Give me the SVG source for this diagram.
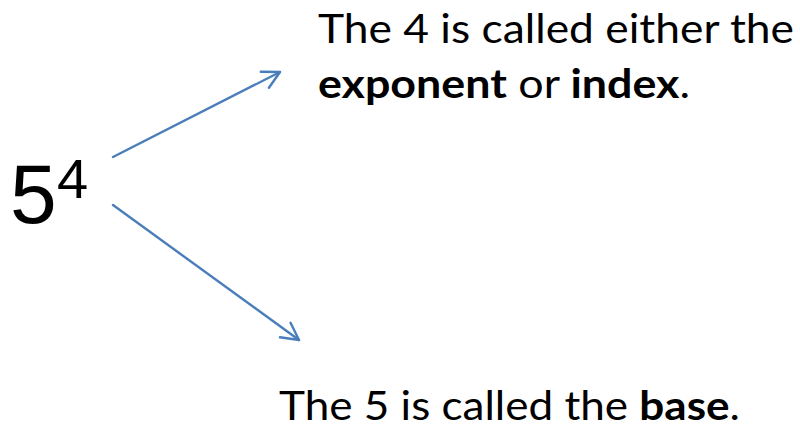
<svg xmlns="http://www.w3.org/2000/svg" width="800" height="429" viewBox="0 0 800 429">
  <defs>
    <marker id="open-arrow" viewBox="0 0 22 22" refX="20" refY="11" markerWidth="22" markerHeight="22" markerUnits="userSpaceOnUse" orient="auto">
      <path d="M3,2 L20,11 L3,20" fill="none" stroke="#4a7ebb" stroke-width="2.4" stroke-linecap="round" stroke-linejoin="round"/>
    </marker>
  </defs>
  <style>
    .label { font-family: Lato, "Open Sans", sans-serif; font-size: 40px; fill: #000; }
    .b { font-weight: bold; }
    .math { font-family: "Liberation Sans", Arial, sans-serif; fill: #000; }
    .conn { stroke: #4a7ebb; stroke-width: 2.4; fill: none; stroke-linecap: round; }
  </style>
  <rect width="800" height="429" fill="#fff"/>

  <g id="power">
    <text class="math" x="10" y="223" font-size="84">5</text>
    <text class="math" x="57" y="198" font-size="56">4</text>
  </g>

  <g id="connectors">
    <line class="conn" x1="113" y1="157" x2="280" y2="72" marker-end="url(#open-arrow)"/>
    <line class="conn" x1="113" y1="205" x2="299" y2="340" marker-end="url(#open-arrow)"/>
  </g>

  <g id="exponent-note">
    <text class="label" x="318" y="43" textLength="476" lengthAdjust="spacingAndGlyphs">The 4 is called either the</text>
    <text class="label" x="318" y="98" textLength="372" lengthAdjust="spacingAndGlyphs"><tspan class="b">exponent</tspan> or <tspan class="b">index</tspan>.</text>
  </g>

  <g id="base-note">
    <text class="label" x="279" y="420" textLength="461" lengthAdjust="spacingAndGlyphs">The 5 is called the <tspan class="b">base</tspan>.</text>
  </g>
</svg>
